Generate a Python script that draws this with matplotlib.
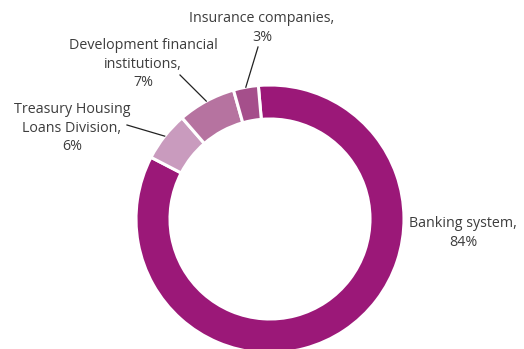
import numpy as np
import matplotlib.pyplot as plt

# share of lending by source, percent (clockwise from top)
labels = ['Banking system', 'Treasury Housing\nLoans Division',
          'Development financial\ninstitutions', 'Insurance companies']
shares = [84, 6, 7, 3]
colors = ['#9b1878', '#c99bbe', '#b673a0', '#a54f8b']

plt.rcParams['font.family'] = ['Open Sans', 'DejaVu Sans']

fig = plt.figure(figsize=(5.24, 3.49), dpi=100)
ax = fig.add_axes([0, 0, 1, 1])

cx, cy, R = 270, 130, 134
wedges, _ = ax.pie(shares, colors=colors, startangle=95, counterclock=False,
                   center=(cx, cy), radius=R, frame=True,
                   wedgeprops=dict(width=34, edgecolor='white', linewidth=2.2))
ax.set_xlim(0, 524)
ax.set_ylim(0, 349)
ax.axis('off')

# text positions (pixel layout), None -> no leader line
text_pos = [(463, 116), (72, 221), (143, 285), (262, 321)]
leader_start = [None, (127, 224), (180, 274), (258, 302)]

txt = '#3d3d3d'
for w, lab, s, tp, ls in zip(wedges, labels, shares, text_pos, leader_start):
    ax.text(tp[0], tp[1], lab + ',\n' + str(s) + '%', ha='center', va='center',
            fontsize=10.3, color=txt, linespacing=1.3)
    if ls is not None:
        ang = np.deg2rad((w.theta1 + w.theta2) / 2)
        px = cx + R * np.cos(ang)
        py = cy + R * np.sin(ang)
        ax.plot([ls[0], px], [ls[1], py], color='#222222', lw=0.9)

fig.savefig('out.png', dpi=100)
